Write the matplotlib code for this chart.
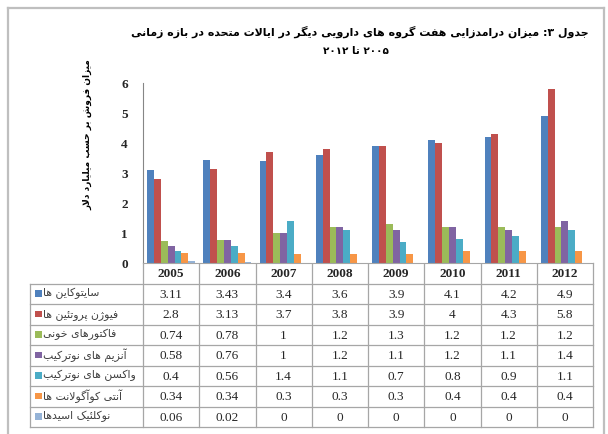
import matplotlib
matplotlib.use("Agg")
import matplotlib.pyplot as plt
from matplotlib.patches import Rectangle
import numpy as np

# ---- data ----
years = ["2005", "2006", "2007", "2008", "2009", "2010", "2011", "2012"]
series_names = [
    "سایتوکاین ها",
    "فیوژن پروتئین ها",
    "فاکتورهای خونی",
    "آنزیم های نوترکیب",
    "واکسن های نوترکیب",
    "آنتی کوآگولانت ها",
    "نوکلئیک اسیدها",
]
cytokines = [3.11, 3.43, 3.4, 3.6, 3.9, 4.1, 4.2, 4.9]
fusion_proteins = [2.8, 3.13, 3.7, 3.8, 3.9, 4, 4.3, 5.8]
blood_factors = [0.74, 0.78, 1, 1.2, 1.3, 1.2, 1.2, 1.2]
enzymes = [0.58, 0.76, 1, 1.2, 1.1, 1.2, 1.1, 1.4]
vaccines = [0.4, 0.56, 1.4, 1.1, 0.7, 0.8, 0.9, 1.1]
anticoagulants = [0.34, 0.34, 0.3, 0.3, 0.3, 0.4, 0.4, 0.4]
nucleic_acids = [0.06, 0.02, 0, 0, 0, 0, 0, 0]
series_values = [cytokines, fusion_proteins, blood_factors, enzymes,
                 vaccines, anticoagulants, nucleic_acids]
colors = ["#4F81BD", "#C0504D", "#9BBB59", "#8064A2",
          "#4BACC6", "#F79646", "#95B3D7"]

title1 = "جدول ۳: میزان درامدزایی هفت گروه های دارویی دیگر در ایالات متحده در بازه زمانی"
title2 = "۲۰۰۵ تا ۲۰۱۲"
ylabel = "میزان فروش بر حسب میلیارد دلار"

# ---- minimal Persian shaping (no bidi library available) ----
FORMS = {
    "ا": (0xFE8D, 0xFE8E), "آ": (0xFE81, 0xFE82), "د": (0xFEA9, 0xFEAA),
    "ذ": (0xFEAB, 0xFEAC), "ر": (0xFEAD, 0xFEAE), "ز": (0xFEAF, 0xFEB0),
    "ژ": (0xFB8A, 0xFB8B), "و": (0xFEED, 0xFEEE),
    "ب": (0xFE8F, 0xFE90, 0xFE91, 0xFE92), "پ": (0xFB56, 0xFB57, 0xFB58, 0xFB59),
    "ت": (0xFE95, 0xFE96, 0xFE97, 0xFE98), "ث": (0xFE99, 0xFE9A, 0xFE9B, 0xFE9C),
    "ج": (0xFE9D, 0xFE9E, 0xFE9F, 0xFEA0), "چ": (0xFB7A, 0xFB7B, 0xFB7C, 0xFB7D),
    "ح": (0xFEA1, 0xFEA2, 0xFEA3, 0xFEA4), "خ": (0xFEA5, 0xFEA6, 0xFEA7, 0xFEA8),
    "س": (0xFEB1, 0xFEB2, 0xFEB3, 0xFEB4), "ش": (0xFEB5, 0xFEB6, 0xFEB7, 0xFEB8),
    "ص": (0xFEB9, 0xFEBA, 0xFEBB, 0xFEBC), "ض": (0xFEBD, 0xFEBE, 0xFEBF, 0xFEC0),
    "ط": (0xFEC1, 0xFEC2, 0xFEC3, 0xFEC4), "ظ": (0xFEC5, 0xFEC6, 0xFEC7, 0xFEC8),
    "ع": (0xFEC9, 0xFECA, 0xFECB, 0xFECC), "غ": (0xFECD, 0xFECE, 0xFECF, 0xFED0),
    "ف": (0xFED1, 0xFED2, 0xFED3, 0xFED4), "ق": (0xFED5, 0xFED6, 0xFED7, 0xFED8),
    "ک": (0xFB8E, 0xFB8F, 0xFB90, 0xFB91), "گ": (0xFB92, 0xFB93, 0xFB94, 0xFB95),
    "ل": (0xFEDD, 0xFEDE, 0xFEDF, 0xFEE0), "م": (0xFEE1, 0xFEE2, 0xFEE3, 0xFEE4),
    "ن": (0xFEE5, 0xFEE6, 0xFEE7, 0xFEE8), "ه": (0xFEE9, 0xFEEA, 0xFEEB, 0xFEEC),
    "ی": (0xFBFC, 0xFBFD, 0xFBFE, 0xFBFF), "ئ": (0xFE89, 0xFE8A, 0xFE8B, 0xFE8C),
}
LAM_ALEF = {"ا": (0xFEFB, 0xFEFC), "آ": (0xFEF5, 0xFEF6)}


def fa(text):
    out = []
    i = 0
    n = len(text)
    while i < n:
        c = text[i]
        if c not in FORMS:
            out.append(c)
            i += 1
            continue
        prev = text[i - 1] if i > 0 else ""
        link_prev = prev in FORMS and len(FORMS[prev]) == 4
        if c == "ل" and i + 1 < n and text[i + 1] in LAM_ALEF:
            out.append(chr(LAM_ALEF[text[i + 1]][1 if link_prev else 0]))
            i += 2
            continue
        nxt = text[i + 1] if i + 1 < n else ""
        f = FORMS[c]
        link_next = len(f) == 4 and nxt in FORMS
        if link_prev and link_next:
            g = f[3]
        elif link_prev:
            g = f[1]
        elif link_next:
            g = f[2]
        else:
            g = f[0]
        out.append(chr(g))
        i += 1
    # visual order: reverse, keeping digit runs left-to-right
    tokens = []
    for ch in out:
        is_digit = ch.isdigit()
        if tokens and tokens[-1][0] == is_digit:
            tokens[-1][1].append(ch)
        else:
            tokens.append((is_digit, [ch]))
    res = ""
    for is_digit, chars in reversed(tokens):
        res += "".join(chars) if is_digit else "".join(reversed(chars))
    return res


# ---- figure ----
W, H = 608, 434
fig = plt.figure(figsize=(W / 100, H / 100), dpi=100)
fig.patch.set_facecolor("white")

ax_left, ax_right, ax_top, ax_bottom = 143, 593, 83, 263
ax = fig.add_axes([ax_left / W, 1 - ax_bottom / H,
                   (ax_right - ax_left) / W, (ax_bottom - ax_top) / H])

x = np.arange(len(years))
n_series = len(series_values)
bar_w = 0.855 / n_series
for j, (vals, col) in enumerate(zip(series_values, colors)):
    ax.bar(x + (j - (n_series - 1) / 2) * bar_w, vals, bar_w,
           color=col, edgecolor="none")

ax.set_xlim(-0.5, len(years) - 0.5)
ax.set_ylim(0, 6)
ax.set_yticks(range(0, 7))
ax.set_xticks([])
for s in ["top", "right"]:
    ax.spines[s].set_visible(False)
ax.spines["left"].set_color("#868686")
ax.spines["bottom"].set_color("#a6a6a6")
ax.tick_params(axis="y", length=0, pad=11)
for lab in ax.get_yticklabels():
    lab.set_fontfamily("Liberation Serif")
    lab.set_fontweight("bold")
    lab.set_fontsize(9.5)
    lab.set_color("#262626")

# overlay in pixel coordinates for table, titles and frame
ov = fig.add_axes([0, 0, 1, 1], zorder=-1)
ov.set_xlim(0, W)
ov.set_ylim(H, 0)
ov.axis("off")

ov.plot([8, 8], [8, H], color="#bfbfbf", lw=1.6)
ov.plot([8, 604], [8, 8], color="#bfbfbf", lw=1.6)
ov.plot([604, 604], [8, H], color="#bfbfbf", lw=1.6)

ov.text(360, 32, fa(title1), ha="center", va="center", fontsize=7.9,
        fontweight="bold", family="DejaVu Sans", color="black")
ov.text(356, 51, fa(title2), ha="center", va="center", fontsize=7.5,
        fontweight="bold", family="DejaVu Sans", color="black")
ov.text(88, 135, fa(ylabel), ha="center", va="center", rotation=90,
        fontsize=6.5, fontweight="bold", family="DejaVu Sans", color="black")

# data table
grid_c = "#a6a6a6"
col_w = (ax_right - ax_left) / len(years)
label_left = 30
header_top, header_bot = ax_bottom, 283.5
row_h = 20.5
rows_bot = header_bot + row_h * n_series

for i in range(len(years) + 1):
    xx = ax_left + i * col_w
    ov.plot([xx, xx], [header_top, rows_bot], color=grid_c, lw=0.9)
ov.plot([label_left, label_left], [header_bot, rows_bot], color=grid_c, lw=0.9)
for r in range(n_series + 1):
    yy = header_bot + r * row_h
    ov.plot([label_left, ax_right], [yy, yy], color=grid_c, lw=0.9)

for i, yr in enumerate(years):
    ov.text(ax_left + (i + 0.5) * col_w, (header_top + header_bot) / 2 + 1, yr,
            ha="center", va="center", fontsize=9.5, fontweight="bold",
            family="Liberation Serif", color="#262626")

for r, (name, vals, col) in enumerate(zip(series_names, series_values, colors)):
    yc = header_bot + (r + 0.5) * row_h
    ov.add_patch(Rectangle((35, yc - 3.5), 6.5, 6.5, facecolor=col,
                           edgecolor="none"))
    ov.text(43, yc, fa(name), ha="left", va="center", fontsize=7.8,
            family="DejaVu Sans", color="#404040")
    for i, v in enumerate(vals):
        ov.text(ax_left + (i + 0.5) * col_w, yc + 1, f"{v:g}", ha="center",
                va="center", fontsize=9.5, family="Liberation Serif",
                color="#262626")

fig.savefig("out.png", dpi=100)
